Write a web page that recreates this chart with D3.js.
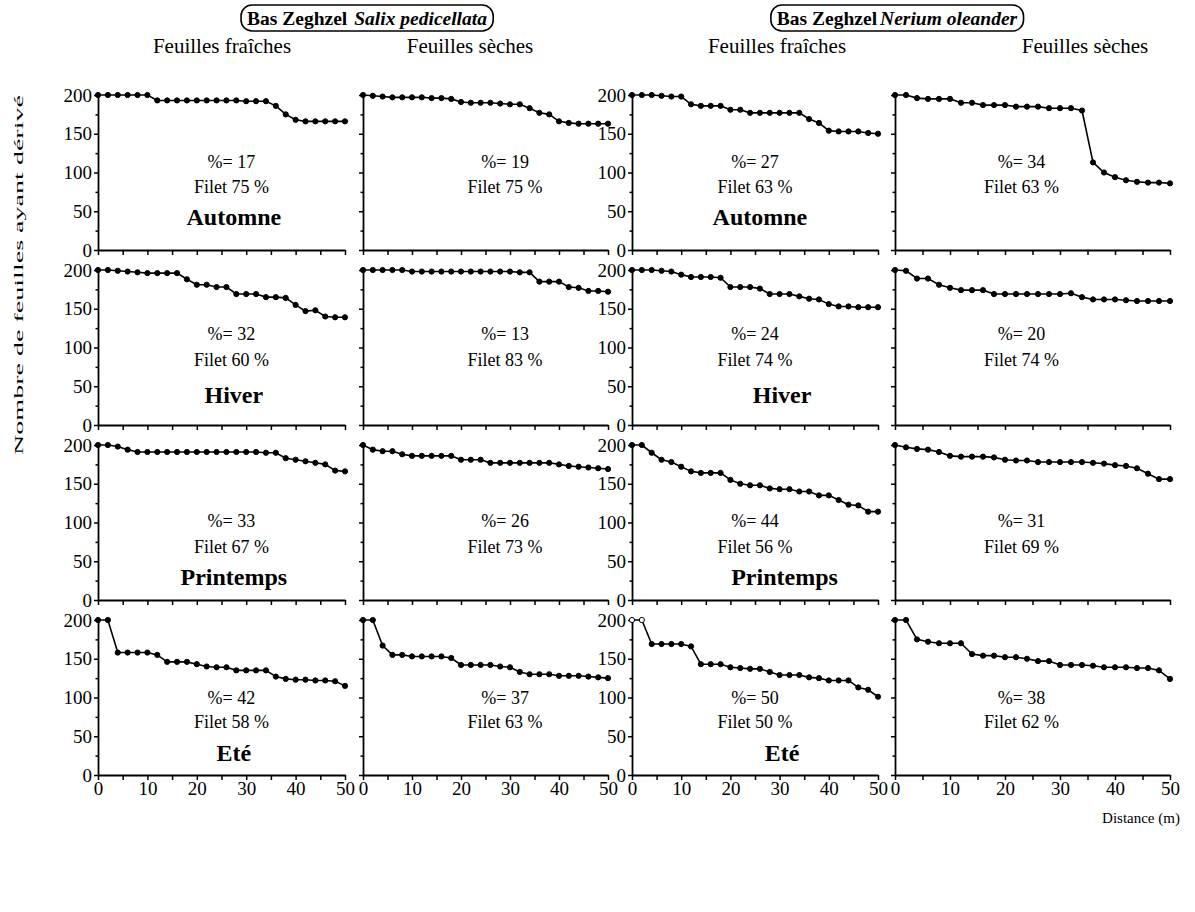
<!DOCTYPE html>
<html>
<head>
<meta charset="utf-8">
<script src="https://cdn.jsdelivr.net/npm/d3@7"></script>
<style>
  body { margin: 0; background: #fff; }
  text { font-family: "Liberation Serif", "Times New Roman", serif; fill: #000; }
</style>
</head>
<body>
<div id="chart"></div>
<script>
// distances along the stream (m), one point every 2 m
const distances = d3.range(0, 51, 2);

const seasons = ['Automne', 'Hiver', 'Printemps', 'Eté'];
const leafTypes = ['Feuilles fraîches', 'Feuilles sèches', 'Feuilles fraîches', 'Feuilles sèches'];
const titleSpecies = ['Salix pedicellata', 'Nerium oleander'];
const xTickLabels = [0, 10, 20, 30, 40, 50];
const yTickLabels = [0, 50, 100, 150, 200];

// leaves still drifting (out of 200) at each distance
const salixFreshAut  = [200,200,200,200,200,200,193,193,193,193,193,193,193,193,193,192,192,192,186,175,168,166,166,166,166,166];
const salixDryAut    = [200,199,198,197,197,197,197,196,196,195,191,190,190,190,189,188,188,183,177,175,166,164,163,163,163,163];
const neriumFreshAut = [200,200,200,199,198,198,188,186,186,186,181,181,177,177,177,177,177,177,169,164,154,153,153,153,151,150];
const neriumDryAut   = [200,200,196,195,195,195,190,190,187,187,187,185,185,185,183,183,183,180,113,100,94,90,88,87,87,86];

const salixFreshHiv  = [200,200,199,198,197,196,196,196,196,188,181,181,178,178,169,169,169,165,165,164,155,147,148,140,139,139];
const salixDryHiv    = [200,200,200,200,200,198,198,198,198,198,198,198,198,198,198,198,197,197,185,185,185,178,177,173,173,172];
const neriumFreshHiv = [200,200,200,199,198,194,191,191,191,190,178,178,178,176,169,169,169,166,163,162,156,153,153,152,152,152];
const neriumDryHiv   = [200,199,189,189,181,177,174,174,174,169,169,169,169,169,169,169,170,165,162,162,162,161,160,160,160,160];

const salixFreshPri  = [200,200,198,194,191,191,191,191,191,191,191,191,191,191,191,191,191,190,190,183,181,179,177,175,167,166];
const salixDryPri    = [200,194,192,192,188,186,186,186,186,186,181,181,181,177,177,177,177,177,177,177,175,173,172,171,170,169];
const neriumFreshPri = [200,200,190,181,178,172,166,164,164,164,155,150,148,148,144,143,143,140,140,135,135,129,123,122,114,114];
const neriumDryPri   = [200,197,195,194,191,186,185,185,185,184,181,180,180,178,178,178,178,178,177,176,174,173,170,163,156,156];

const salixFreshEte  = [200,200,158,158,158,158,155,146,146,146,143,140,139,139,135,135,135,135,127,124,123,123,122,122,121,115];
const salixDryEte    = [200,200,167,155,155,153,153,153,153,151,142,142,142,142,140,139,133,130,130,130,128,128,128,127,126,125];
const neriumFreshEte = [200,200,169,169,169,169,166,143,143,143,139,138,137,137,133,129,129,129,126,125,122,122,122,113,110,101];
const neriumDryEte   = [200,200,175,172,170,170,170,156,154,154,152,152,150,147,147,142,142,142,141,139,139,139,138,138,135,124];

// "%=" and "Filet" values, panel by panel (row = season)
const percent = [17, 19, 27, 34,  32, 13, 24, 20,  33, 26, 44, 31,  42, 37, 50, 38];
const filet   = [75, 75, 63, 63,  60, 83, 74, 74,  67, 73, 56, 69,  58, 63, 50, 62];

const panels = [
  salixFreshAut, salixDryAut, neriumFreshAut, neriumDryAut,
  salixFreshHiv, salixDryHiv, neriumFreshHiv, neriumDryHiv,
  salixFreshPri, salixDryPri, neriumFreshPri, neriumDryPri,
  salixFreshEte, salixDryEte, neriumFreshEte, neriumDryEte
];

const width = 1195, height = 912;
const colX = [98, 363, 632, 895];
const colW = [247, 245, 246, 275];
const rowBase = [250, 425, 600, 775];
const panelH = 155;
// where the annotations sit, in data units (x in m, y in leaves)
const noteX = [27, 29, 25, 23];
const seasonX = [[27.5, 26], [27.5, 30.5], [27.5, 31], [27.5, 30.5]];
const noteY = [[114, 81, 42], [118, 84, 39], [102, 68, 30], [99, 68, 28]];

const svg = d3.select('#chart').append('svg')
    .attr('width', width)
    .attr('height', height);

const y = d3.scaleLinear().domain([0, 200]).range([panelH, 0]);

panels.forEach((values, p) => {
    let r = Math.floor(p / 4), c = p % 4;
    let x = d3.scaleLinear().domain([0, 50]).range([0, colW[c]]);
    let line = d3.line()
        .x((d, i) => x(distances[i]))
        .y(d => y(d));
    let g = svg.append('g')
        .attr('transform', 'translate(' + colX[c] + ',' + (rowBase[r] - panelH) + ')');

    // x axis
    let xAxis = g.append('g')
        .attr('transform', 'translate(0,' + panelH + ')')
        .call(d3.axisBottom(x)
            .tickValues(d3.range(0, 51, 5))
            .tickSize(5)
            .tickSizeOuter(0)
            .tickPadding(2)
            .tickFormat(d => (r === 3 && xTickLabels.includes(d)) ? d : ''));

    // y axis
    let showY = (c === 0 || c === 2);
    let yAxis = g.append('g')
        .call(d3.axisLeft(y)
            .tickValues(d3.range(0, 201, 25))
            .tickSize(4)
            .tickSizeOuter(0)
            .tickPadding(2)
            .tickFormat(d => (showY && yTickLabels.includes(d)) ? d : ''));
    yAxis.selectAll('.tick')
        .filter(d => d % 50 !== 0)
        .select('line').attr('x2', -2.5);

    [xAxis, yAxis].forEach(a => {
        a.attr('font-family', null).attr('font-size', null);
        a.select('.domain').attr('stroke-width', 1.8);
        a.selectAll('.tick line').attr('stroke-width', 1.5);
        a.selectAll('.tick text').style('font-size', '19px');
    });

    g.append('path')
        .datum(values)
        .attr('fill', 'none')
        .attr('stroke', '#000')
        .attr('stroke-width', 1.6)
        .attr('d', line);

    g.selectAll('circle')
        .data(values)
        .enter().append('circle')
        .attr('cx', (d, i) => x(distances[i]))
        .attr('cy', d => y(d))
        .attr('r', 2.6)
        .attr('fill', (d, i) => (p === 14 && i < 2) ? '#fff' : '#000')
        .attr('stroke', '#000')
        .attr('stroke-width', 1);

    g.append('text')
        .attr('x', x(noteX[c])).attr('y', y(noteY[r][0]))
        .attr('text-anchor', 'middle').attr('dominant-baseline', 'central')
        .style('font-size', '18px')
        .text('%= ' + percent[p]);
    g.append('text')
        .attr('x', x(noteX[c])).attr('y', y(noteY[r][1]))
        .attr('text-anchor', 'middle').attr('dominant-baseline', 'central')
        .style('font-size', '18px')
        .text('Filet ' + filet[p] + ' %');
    if (showY) {
        g.append('text')
            .attr('x', x(seasonX[r][c / 2])).attr('y', y(noteY[r][2]))
            .attr('text-anchor', 'middle').attr('dominant-baseline', 'central')
            .style('font-size', '24px').style('font-weight', 'bold')
            .text(seasons[r]);
    }
});

// column headers
const headerX = [222, 470, 777, 1085];
leafTypes.forEach((t, c) => {
    svg.append('text')
        .attr('x', headerX[c]).attr('y', 46)
        .attr('text-anchor', 'middle').attr('dominant-baseline', 'central')
        .style('font-size', '21px')
        .text(t);
});

// boxed titles
const titleCenters = [367, 897];
titleSpecies.forEach((s, i) => {
    let tg = svg.append('g');
    let t = tg.append('text')
        .attr('x', titleCenters[i]).attr('y', 18)
        .attr('text-anchor', 'middle').attr('dominant-baseline', 'central')
        .style('font-size', '19.5px').style('font-weight', 'bold');
    t.append('tspan').text('Bas Zeghzel');
    t.append('tspan').attr('dx', i === 0 ? 7 : 3).style('font-style', 'italic').text(s);
    let bb = t.node().getBBox();
    tg.insert('rect', 'text')
        .attr('x', bb.x - 6).attr('y', 5)
        .attr('width', bb.width + 12).attr('height', 26)
        .attr('rx', 11).attr('ry', 11)
        .attr('fill', 'none').attr('stroke', '#000').attr('stroke-width', 1.6);
});

// axis titles
svg.append('text')
    .attr('transform', 'translate(18,275) rotate(-90)')
    .attr('text-anchor', 'middle').attr('dominant-baseline', 'central')
    .attr('textLength', 360).attr('lengthAdjust', 'spacingAndGlyphs')
    .style('font-size', '13px')
    .text('Nombre de feuilles ayant dérivé');

svg.append('text')
    .attr('x', 1141).attr('y', 818)
    .attr('text-anchor', 'middle').attr('dominant-baseline', 'central')
    .style('font-size', '15px')
    .text('Distance (m)');
</script>
</body>
</html>
